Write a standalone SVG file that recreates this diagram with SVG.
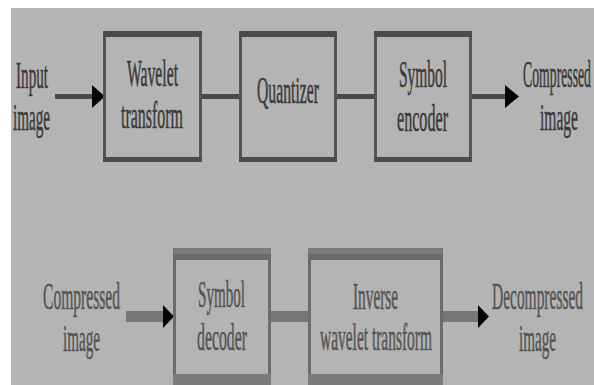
<svg xmlns="http://www.w3.org/2000/svg" width="594" height="385" viewBox="0 0 594 385">
<style>
  .t { font-family: "Liberation Serif", "Times New Roman", serif; font-size: 38px; text-anchor: middle; fill: #3a3a3a; stroke: #3a3a3a; stroke-width: 0.6; }
  .b { fill: #555; stroke: #555; }
  .side { fill: none; stroke: #555; stroke-width: 3; }
  .bar { fill: #4b4b4b; }
  .side2 { fill: none; stroke: #6c6c6c; stroke-width: 3; }
  .barA { fill: #7c7c7c; }
  .barB { fill: #6a6a6a; }
  .c1 { stroke: #4a4a4a; stroke-width: 5; fill: none; }
  .c2 { stroke: #777; stroke-width: 11; fill: none; }
  .ah { fill: #050505; }
</style>
<rect x="0" y="0" width="594" height="385" fill="#ffffff"/>
<rect x="11" y="8" width="583" height="377" fill="#b4b4b4"/>

<g id="connectors">
  <line class="c1" x1="55" y1="96.5" x2="93" y2="96.5"/>
  <polygon class="ah" points="92,85 92,108 105,96.5"/>
  <line class="c1" x1="202" y1="96.5" x2="239" y2="96.5"/>
  <line class="c1" x1="337" y1="96.5" x2="374" y2="96.5"/>
  <line class="c1" x1="472" y1="96.5" x2="506" y2="96.5"/>
  <polygon class="ah" points="505,85 505,108 519,96.5"/>
  <line class="c2" x1="126" y1="316.5" x2="164" y2="316.5"/>
  <polygon class="ah" points="163,305 163,328 174,316.5"/>
  <line class="c2" x1="271" y1="316.5" x2="308" y2="316.5"/>
  <line class="c2" x1="443" y1="316.5" x2="479" y2="316.5"/>
  <polygon class="ah" points="478,305 478,328 489,316.5"/>
</g>

<g id="input-label">
  <text class="t" x="32" y="88" textLength="32" lengthAdjust="spacingAndGlyphs">Input</text>
  <text class="t" x="31.5" y="130" textLength="37" lengthAdjust="spacingAndGlyphs">image</text>
</g>

<g id="wavelet-transform">
  <rect class="side" x="104.5" y="33" width="96" height="127"/>
  <rect class="bar" x="103" y="31" width="99" height="6"/>
  <rect class="bar" x="103" y="157" width="99" height="5"/>
  <text class="t" x="152.5" y="86" textLength="51" lengthAdjust="spacingAndGlyphs">Wavelet</text>
  <text class="t" x="152" y="128" textLength="62" lengthAdjust="spacingAndGlyphs">transform</text>
</g>

<g id="quantizer">
  <rect class="side" x="240.5" y="33" width="95" height="127"/>
  <rect class="bar" x="239" y="31" width="98" height="6"/>
  <rect class="bar" x="239" y="157" width="98" height="5"/>
  <text class="t" x="288" y="103" textLength="62" lengthAdjust="spacingAndGlyphs">Quantizer</text>
</g>

<g id="symbol-encoder">
  <rect class="side" x="375.5" y="33" width="95" height="127"/>
  <rect class="bar" x="374" y="31" width="98" height="6"/>
  <rect class="bar" x="374" y="157" width="98" height="5"/>
  <text class="t" x="423" y="87" textLength="48" lengthAdjust="spacingAndGlyphs">Symbol</text>
  <text class="t" x="422.5" y="131" textLength="51" lengthAdjust="spacingAndGlyphs">encoder</text>
</g>

<g id="compressed-output">
  <text class="t" x="523" y="87" style="text-anchor:start" textLength="68" lengthAdjust="spacingAndGlyphs">Compressed</text>
  <text class="t" x="559" y="130" textLength="38" lengthAdjust="spacingAndGlyphs">image</text>
</g>

<g id="compressed-input">
  <text class="t b" x="81.5" y="309" textLength="77" lengthAdjust="spacingAndGlyphs">Compressed</text>
  <text class="t b" x="81.5" y="351" textLength="37" lengthAdjust="spacingAndGlyphs">image</text>
</g>

<g id="symbol-decoder">
  <rect class="side2" x="174.5" y="250" width="95" height="140"/>
  <rect class="barA" x="173" y="248" width="98" height="6"/>
  <rect class="barB" x="173" y="254" width="98" height="6"/>
  <rect class="barA" x="173" y="374" width="98" height="12"/>
  <text class="t b" x="221.5" y="307" textLength="47" lengthAdjust="spacingAndGlyphs">Symbol</text>
  <text class="t b" x="222" y="350" textLength="50" lengthAdjust="spacingAndGlyphs">decoder</text>
</g>

<g id="inverse-wavelet-transform">
  <rect class="side2" x="309.5" y="250" width="132" height="140"/>
  <rect class="barA" x="308" y="248" width="135" height="6"/>
  <rect class="barB" x="308" y="254" width="135" height="6"/>
  <rect class="barA" x="308" y="374" width="135" height="12"/>
  <text class="t b" x="375.5" y="309" textLength="45" lengthAdjust="spacingAndGlyphs">Inverse</text>
  <text class="t b" x="376" y="350" textLength="112" lengthAdjust="spacingAndGlyphs">wavelet transform</text>
</g>

<g id="decompressed-output">
  <text class="t b" x="537.5" y="309" textLength="91" lengthAdjust="spacingAndGlyphs">Decompressed</text>
  <text class="t b" x="537.5" y="351" textLength="37" lengthAdjust="spacingAndGlyphs">image</text>
</g>
</svg>
